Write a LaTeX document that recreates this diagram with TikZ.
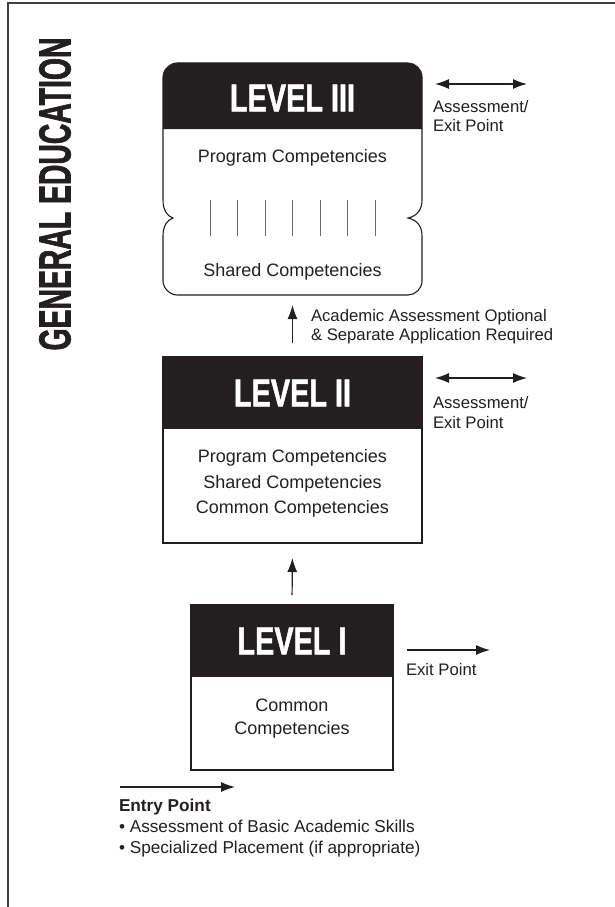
\documentclass[tikz,border=0pt]{standalone}
\usepackage{fontspec}
\setmainfont{Liberation Sans}
\newfontfamily\condfont[FakeStretch=0.74,FakeBold=1.2]{Liberation Sans}
\newfontfamily\titlefont[FakeStretch=0.63,FakeBold=1.4]{Liberation Sans}
\usetikzlibrary{arrows.meta}
\definecolor{ink}{HTML}{231F20}
\definecolor{rule}{HTML}{404040}
\definecolor{tick}{HTML}{6A6A6A}
\begin{document}
\begin{tikzpicture}[x=1pt,y=-1pt,
  every node/.style={inner sep=0pt, outer sep=0pt, text=ink},
  boxline/.style={draw=ink, line width=1.1pt},
  hdrfill/.style={fill=ink, draw=none},
  hdrtext/.style={text=white, font=\condfont\bfseries\fontsize{39}{39}\selectfont},
  body/.style={font=\fontsize{18}{25.5}\selectfont, align=center},
  side/.style={font=\fontsize{16.7}{19}\selectfont, align=left, anchor=west},
  tip/.tip={Latex[length=14pt,width=10pt]},
  arr/.style={draw=ink, line width=1.2pt, -tip},
  dblarr/.style={draw=ink, line width=1.2pt, tip-tip},
]
\useasboundingbox (0,0) rectangle (615,907);

% page frame (top and left rules)
\draw[rule, line width=2pt] (615,3.5) -- (8,3.5) -- (8,907);

% vertical title
\node[rotate=90, font=\titlefont\bfseries\fontsize{45}{45}\selectfont] (title) at (55,194) {GENERAL EDUCATION};

% ---------- Level III: rounded box with notched sides ----------
\fill[ink] (163,129) -- (163,77) .. controls (163,69.3) and (170.7,63) .. (177,63)
  -- (408,63) .. controls (415.3,63) and (422,69.3) .. (422,77) -- (422,129) -- cycle;
\draw[boxline] (163,77) .. controls (163,69.3) and (170.7,63) .. (177,63)
  -- (408,63) .. controls (415.3,63) and (422,69.3) .. (422,77)
  -- (422,200) .. controls (422,210) and (417,216) .. (408,218)
  .. controls (417,220) and (422,226) .. (422,236)
  -- (422,281) .. controls (422,288.7) and (415.3,295) .. (408,295)
  -- (177,295) .. controls (170.7,295) and (163,288.7) .. (163,281)
  -- (163,236) .. controls (163,226) and (167,220) .. (173,218)
  .. controls (167,216) and (163,210) .. (163,200) -- cycle;
\coordinate (l3s) at (292.5,295);
\node[hdrtext] (l3title) at (292.5,98) {LEVEL III};
\node[body] (l3prog) at (292.5,158) {Program Competencies};
\foreach \i in {0,...,6}
  \draw[tick, line width=0.8pt] (210+27.5*\i,200) -- (210+27.5*\i,236);
\node[body] (l3shared) at (292.5,272) {Shared Competencies};

\coordinate (d3a) at (435,84);
\coordinate (d3b) at (527,84);
\draw[dblarr] (d3a) -- (d3b);
\node[side] (l3exit) at (433,116) {Assessment/\\Exit Point};

% ---------- Level II ----------
\node[hdrfill, anchor=north west, minimum width=259pt, minimum height=72pt] (l2hdr) at (163,357) {};
\node[boxline, anchor=north west, minimum width=259pt, minimum height=186pt] (l2box) at (163,357) {};
\node[hdrtext] (l2title) at (l2hdr.center) {LEVEL II};
\node[body] (l2body) at (292.5,483.5) {Program Competencies\\Shared Competencies\\Common Competencies};

\draw[arr, shorten <=14pt, shorten >=10pt] (l2box.north) -- (l3s);
\node[side] (l2note) at (311,326.5) {Academic Assessment Optional\\\& Separate Application Required};

\coordinate (d2a) at (435,378);
\coordinate (d2b) at (527,378);
\draw[dblarr] (d2a) -- (d2b);
\node[side, font=\fontsize{16.7}{20}\selectfont] (l2exit) at (433,413) {Assessment/\\Exit Point};

% ---------- Level I ----------
\node[hdrfill, anchor=north west, minimum width=202pt, minimum height=72pt] (l1hdr) at (191,605) {};
\node[boxline, anchor=north west, minimum width=202pt, minimum height=165pt] (l1box) at (191,605) {};
\node[hdrtext] (l1title) at (l1hdr.center) {LEVEL I};
\node[body, font=\fontsize{18}{23.5}\selectfont] (l1body) at (292,718.5) {Common\\Competencies};

\draw[arr, shorten <=10pt, shorten >=15pt] (l1box.north) -- (l2box.south);

\coordinate (e1a) at (407,650);
\coordinate (e1b) at (490,650);
\draw[arr] (e1a) -- (e1b);
\node[side] (l1exit) at (406,670) {Exit Point};

% ---------- Entry point ----------
\coordinate (ena) at (120,787);
\coordinate (enb) at (235,787);
\draw[arr] (ena) -- (enb);
\node[side, font=\fontsize{17.2}{21}\selectfont] (entry) at (119,828)
  {\textbf{Entry Point}\\• Assessment of Basic Academic Skills\\• Specialized Placement (if appropriate)};
\end{tikzpicture}
\end{document}
